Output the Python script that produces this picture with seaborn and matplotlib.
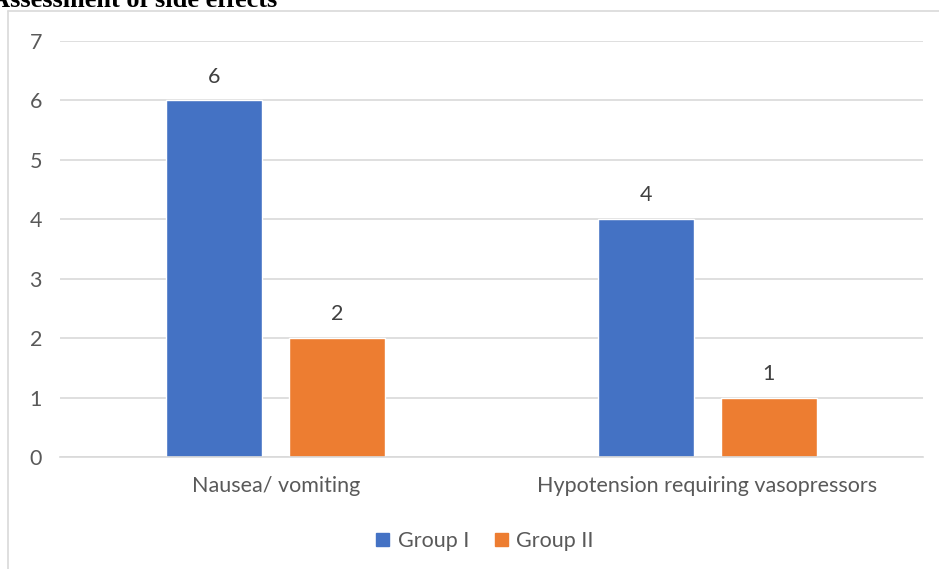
import matplotlib
matplotlib.use("Agg")
import matplotlib.pyplot as plt
from matplotlib.patches import Rectangle
import seaborn as sns
import pandas as pd

categories = ["Nausea/ vomiting", "Hypotension requiring vasopressors"]
groups = ["Group I", "Group II"]
group1 = [6, 4]
group2 = [2, 1]
colors = ["#4472C4", "#ED7D31"]

df = pd.DataFrame({
    "category": categories * 2,
    "group": [groups[0]] * len(categories) + [groups[1]] * len(categories),
    "value": group1 + group2,
})

sns.set_theme(style="white")
plt.rcParams["font.family"] = ["Lato", "DejaVu Sans"]

W, H = 939, 569
FS = 15.5
fig = plt.figure(figsize=(W / 100, H / 100), dpi=100)
ax = fig.add_axes([60 / W, 1 - 457 / H, 863 / W, (457 - 41) / H])

sns.barplot(data=df, x="category", y="value", hue="group", palette=colors,
            width=0.570, gap=0.22, ax=ax, legend=False, saturation=1)

ax.set_xlim(-0.5, 1.5)
ax.set_ylim(0, 7)
ax.set_yticks(range(0, 8))
ax.yaxis.grid(True, color="#d9d9d9", linewidth=1.2)
ax.set_axisbelow(True)
for s in ["top", "right", "left"]:
    ax.spines[s].set_visible(False)
ax.spines["bottom"].set_color("#d9d9d9")
ax.spines["bottom"].set_linewidth(1.2)
ax.tick_params(axis="both", length=0, labelsize=FS, colors="#595959")
ax.tick_params(axis="y", pad=13)
ax.tick_params(axis="x", pad=14)
ax.set_xlabel("")
ax.set_ylabel("")

for cont in ax.containers:
    ax.bar_label(cont, labels=[f"{v:g}" for v in cont.datavalues],
                 padding=10, fontsize=FS, color="#404040")

# legend
handles = [Rectangle((0, 0), 1, 1, color=c) for c in colors]
fig.legend(handles, groups, loc="center", bbox_to_anchor=(485 / W, 1 - 541 / H),
           ncol=2, frameon=False, fontsize=FS, labelcolor="#595959",
           handlelength=0.6, handleheight=0.6, handletextpad=0.4,
           columnspacing=1.2)

# chart area border
fig.add_artist(plt.Line2D([8 / W, 8 / W], [0, 1 - 11 / H], transform=fig.transFigure,
                          color="#d9d9d9", linewidth=1.2))
fig.add_artist(plt.Line2D([8 / W, 1], [1 - 11 / H, 1 - 11 / H], transform=fig.transFigure,
                          color="#d9d9d9", linewidth=1.2))

fig.text(277 / W, 1 - 7 / H, "Assessment of side effects", fontsize=19,
         fontweight="bold", family="Liberation Serif", ha="right", va="baseline",
         color="black")

fig.savefig("out.png", dpi=100, facecolor="white")
